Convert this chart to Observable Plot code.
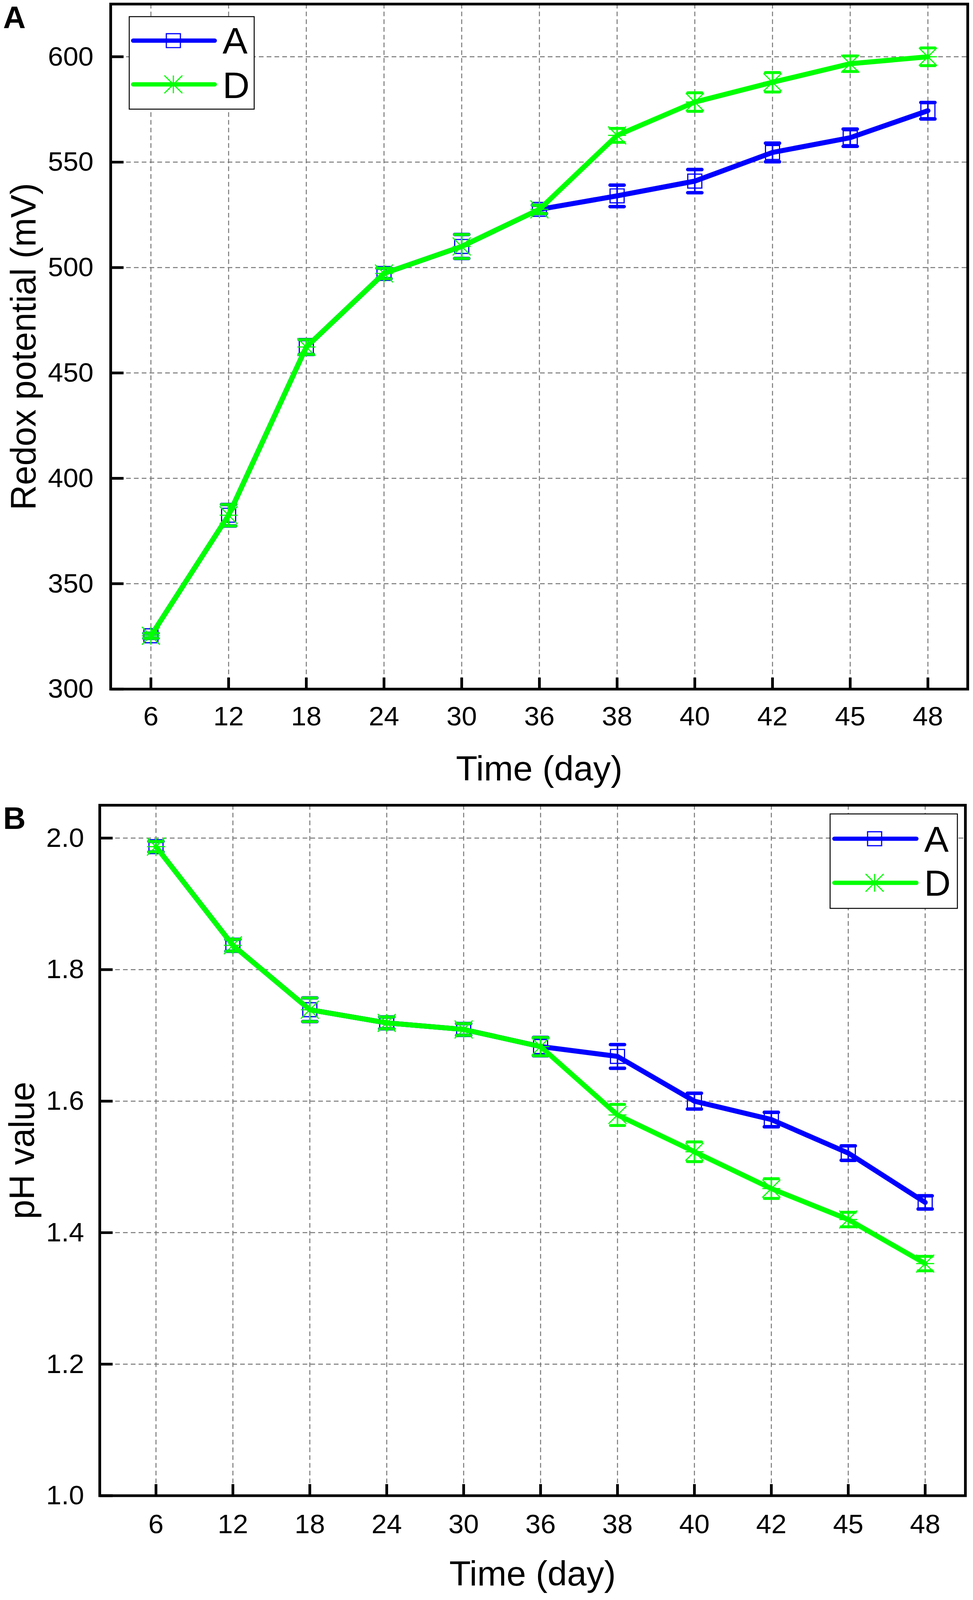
<!DOCTYPE html>
<html><head><meta charset="utf-8">
<script src="https://cdn.jsdelivr.net/npm/d3@7"></script>
<script src="https://cdn.jsdelivr.net/npm/@observablehq/plot@0.6"></script>
<style>
html,body{margin:0;padding:0;background:#fff;overflow:hidden;}
#chart{width:2492px;height:4134px;transform-origin:0 0;}
#chart svg{display:block;}
</style></head><body><div id="chart"></div>
<script>
// ---- data ----
const days = ["6","12","18","24","30","36","38","40","42","45","48"];

const redoxA    = [325.3, 382.5, 462.3, 497.2, 510.0, 527.6, 534.0, 541.0, 554.6, 561.6, 574.4];
const redoxErrA = [1.2, 5.1, 3.5, 2.5, 5.7, 2.0, 5.1, 5.5, 4.4, 4.1, 3.9];
const redoxD    = [325.3, 382.5, 462.3, 497.2, 510.0, 527.6, 562.7, 578.5, 587.9, 596.7, 600.0];
const redoxErrD = [1.2, 5.1, 3.5, 2.5, 5.7, 2.0, 3.3, 4.4, 4.6, 3.7, 4.2];
const redoxTicks = [300, 350, 400, 450, 500, 550, 600];

const phA    = [1.987, 1.837, 1.739, 1.719, 1.709, 1.683, 1.668, 1.600, 1.572, 1.521, 1.446];
const phErrA = [0.008, 0.009, 0.018, 0.009, 0.009, 0.014, 0.018, 0.012, 0.011, 0.011, 0.010];
const phD    = [1.987, 1.837, 1.739, 1.719, 1.709, 1.683, 1.579, 1.523, 1.467, 1.420, 1.353];
const phErrD = [0.008, 0.009, 0.018, 0.009, 0.009, 0.014, 0.016, 0.015, 0.015, 0.011, 0.011];
const phTicks = [1.0, 1.2, 1.4, 1.6, 1.8, 2.0];

const seriesNames = ["A", "D"];

// ---- style ----
const FONT = "'Liberation Sans', Arial, Helvetica, sans-serif";
const BLUE = "#0000FF", GREEN = "#00FF00";
const GRID = {stroke: "#777", strokeOpacity: 1, strokeWidth: 2.5, strokeDasharray: "12,8"};

const squareSym = {draw(c){ const h = 18; c.moveTo(-h,-h); c.lineTo(h,-h); c.lineTo(h,h); c.lineTo(-h,h); c.closePath(); }};
const starSym = {draw(c){ const h = 23; c.moveTo(0,-h); c.lineTo(0,h); c.moveTo(-h,0); c.lineTo(h,0);
  c.moveTo(-h,-h); c.lineTo(h,h); c.moveTo(-h,h); c.lineTo(h,-h); }};
const capSym = {draw(c){ c.moveTo(-18,0); c.lineTo(18,0); }};
const xTickSym = {draw(c){ c.moveTo(0,0); c.lineTo(0,-30); }};
const yTickSym = {draw(c){ c.moveTo(0,0); c.lineTo(33,0); }};

function rows(values, errs){
  return days.map((day, i) => ({day, v: values[i], lo: values[i] - errs[i], hi: values[i] + errs[i]}));
}

function seriesMarks(data, color, marker, capW){
  return [
    Plot.line(data, {x: "day", y: "v", stroke: color, strokeWidth: 13, strokeLinejoin: "round", strokeLinecap: "round"}),
    Plot.ruleX(data, {x: "day", y1: "lo", y2: "hi", stroke: color, strokeWidth: 4}),
    Plot.dot(data, {x: "day", y: "lo", symbol: capSym, fill: "none", stroke: color, strokeWidth: capW, strokeLinecap: "round"}),
    Plot.dot(data, {x: "day", y: "hi", symbol: capSym, fill: "none", stroke: color, strokeWidth: capW, strokeLinecap: "round"}),
    Plot.dot(data, {x: "day", y: "v", symbol: marker, fill: "none", stroke: color, strokeWidth: 3})
  ];
}

function panel(o){
  return Plot.plot({
    width: 2492, height: o.height,
    marginTop: o.marginTop, marginBottom: o.marginBottom, marginLeft: o.marginLeft, marginRight: o.marginRight,
    style: {fontFamily: FONT, color: "black", background: "white", overflow: "visible"},
    x: {type: "point", domain: days, padding: 0.5, insetLeft: o.insetLeft},
    y: {domain: o.yDomain},
    marks: [
      Plot.gridX(days, GRID),
      Plot.gridY(o.yTicks, GRID),
      ...seriesMarks(o.a, BLUE, squareSym, 9),
      ...seriesMarks(o.d, GREEN, starSym, 7.5),
      Plot.frame({stroke: "black", strokeWidth: 7}),
      Plot.dot(days, {x: d => d, frameAnchor: "bottom", symbol: xTickSym, fill: "none", stroke: "black", strokeWidth: 7}),
      Plot.dot(o.yTicks, {y: d => d, frameAnchor: "left", symbol: yTickSym, fill: "none", stroke: "black", strokeWidth: 7}),
      Plot.axisX({tickSize: 0, tickPadding: o.xTickPad, fontSize: 70, label: null}),
      Plot.axisY({ticks: o.yTicks, tickFormat: o.yFormat, tickSize: 0, tickPadding: o.yTickPad, fontSize: 70, label: null}),
      Plot.text([o.xLabel], {text: d => d, frameAnchor: "bottom", textAnchor: "middle", lineAnchor: "middle", dy: o.xLabelDy, fontSize: 90, fill: "black"}),
      Plot.text([o.yLabel], {text: d => d, frameAnchor: "left", textAnchor: "middle", lineAnchor: "middle", dx: o.yLabelDx, rotate: -90, fontSize: 90, fill: "black"})
    ]
  });
}

function symPath(s){ const p = d3.path(); s.draw(p); return p.toString(); }

function addLegend(svg, L){
  const g = d3.select(svg).append("g").attr("font-family", FONT).attr("text-anchor", "start");
  g.append("rect").attr("x", L.box[0]).attr("y", L.box[1]).attr("width", L.box[2]).attr("height", L.box[3])
    .attr("fill", "white").attr("stroke", "black").attr("stroke-width", 2.5);
  L.items.forEach(it => {
    g.append("line").attr("x1", L.x1).attr("x2", L.x2).attr("y1", it.y).attr("y2", it.y)
      .attr("stroke", it.color).attr("stroke-width", 11).attr("stroke-linecap", "round");
    g.append("path").attr("d", symPath(it.sym)).attr("transform", `translate(${L.mx},${it.y})`)
      .attr("fill", "none").attr("stroke", it.color).attr("stroke-width", 3);
    g.append("text").attr("x", L.tx).attr("y", it.base).attr("font-size", L.fs).attr("fill", "black")
      .attr("text-anchor", "start").text(it.label);
  });
}

function addLetter(svg, letter, x, y){
  d3.select(svg).append("text").attr("x", x).attr("y", y).attr("font-family", FONT).attr("text-anchor", "start")
    .attr("font-size", 80).attr("font-weight", "bold").attr("fill", "black").text(letter);
}

// ---- panel A ----
const panelA = panel({
  height: 2050, marginTop: 10, marginBottom: 270, marginLeft: 283, marginRight: 14, insetLeft: 0,
  yDomain: [300, 625], yTicks: redoxTicks, yFormat: d => String(d),
  a: rows(redoxA, redoxErrA), d: rows(redoxD, redoxErrD),
  xTickPad: 44, yTickPad: 44, xLabelDy: 207, yLabelDx: -221,
  xLabel: "Time (day)", yLabel: "Redox potential (mV)"
});
addLegend(panelA, {box: [331, 43, 320, 239], x1: 341, x2: 550, mx: 444, tx: 570, fs: 96,
  items: [{y: 105, base: 138, color: BLUE, sym: squareSym, label: seriesNames[0]},
          {y: 218, base: 253, color: GREEN, sym: starSym, label: seriesNames[1]}]});
addLetter(panelA, "A", 8, 73);

// ---- panel B ----
const panelB = panel({
  height: 2084, marginTop: 30, marginBottom: 270, marginLeft: 255, marginRight: 20, insetLeft: 40,
  yDomain: [1.0, 2.05], yTicks: phTicks, yFormat: d3.format(".1f"),
  a: rows(phA, phErrA), d: rows(phD, phErrD),
  xTickPad: 47, yTickPad: 40, xLabelDy: 203, yLabelDx: -197,
  xLabel: "Time (day)", yLabel: "pH value"
});
addLegend(panelB, {box: [2126, 53, 326, 244], x1: 2137, x2: 2347, mx: 2240, tx: 2367, fs: 94,
  items: [{y: 117, base: 151, color: BLUE, sym: squareSym, label: seriesNames[0]},
          {y: 231, base: 264, color: GREEN, sym: starSym, label: seriesNames[1]}]});
addLetter(panelB, "B", 8, 92);

const chart = document.getElementById("chart");
chart.append(panelA, panelB);

// fit the 2492x4134 layout to the actual viewport if it differs slightly
const vw = document.documentElement.clientWidth, vh = document.documentElement.clientHeight;
const sx = vw / 2492, sy = vh / 4134;
if (vw > 100 && vh > 100 && sx > 0.8 && sx < 1.2 && sy > 0.8 && sy < 1.2 &&
    (Math.abs(sx - 1) > 0.002 || Math.abs(sy - 1) > 0.002)) {
  chart.style.transform = `scale(${sx},${sy})`;
}
</script></body></html>
